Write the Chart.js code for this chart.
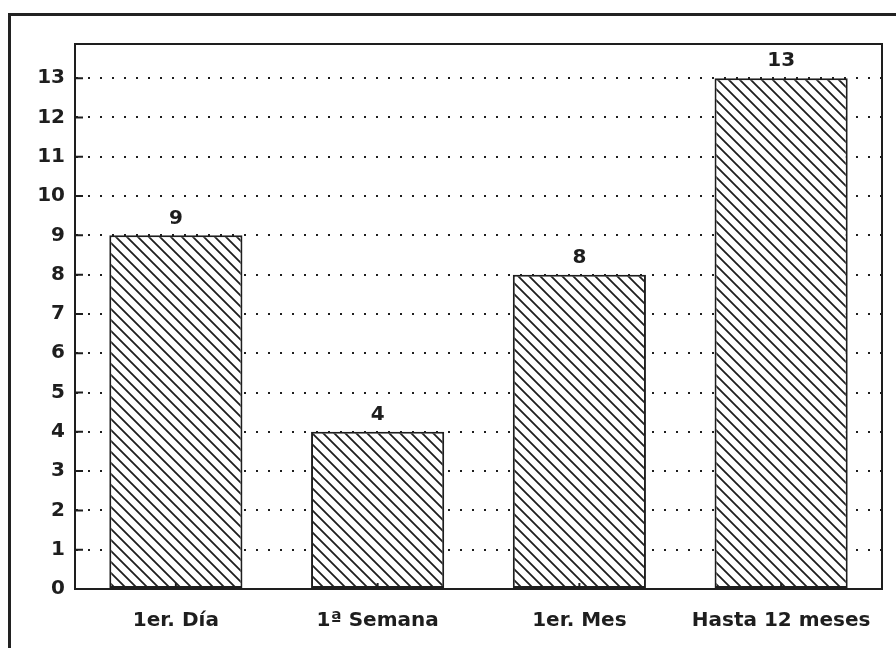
<!DOCTYPE html>
<html>
<head>
<meta charset="utf-8">
<script src="https://cdn.jsdelivr.net/npm/chart.js@4.4.0/dist/chart.umd.min.js"></script>
<style>
  html, body { margin: 0; padding: 0; background: #fff; overflow: hidden; }
  #frame { position: absolute; left: 8px; top: 13px; width: 1000px; height: 1000px; border: 3px solid #222; }
  #wrap { position: absolute; left: 0; top: 0; width: 896px; height: 648px; }
</style>
</head>
<body>
<div id="frame"></div>
<div id="wrap"><canvas id="myChart"></canvas></div>
<script>
var categories = ["1er. Día", "1ª Semana", "1er. Mes", "Hasta 12 meses"]
var counts = [9, 4, 8, 13]
var yTickValues = [0, 1, 2, 3, 4, 5, 6, 7, 8, 9, 10, 11, 12, 13]

var ink = "#1e1e1e"
var font = "'DejaVu Sans', sans-serif"

// diagonal hatch for the bars
function makeHatch(ctx){
    let n = 11
    let c = document.createElement("canvas");
    c.width = n; c.height = n;
    let g = c.getContext("2d");
    g.fillStyle = "#fff";
    g.fillRect(0, 0, n, n);
    g.strokeStyle = ink;
    g.lineWidth = 1.8;
    g.beginPath();
    g.moveTo(-1, -1); g.lineTo(n + 1, n + 1);
    g.moveTo(-1, n - 1); g.lineTo(1, n + 1);
    g.moveTo(n - 1, -1); g.lineTo(n + 1, 1);
    g.stroke();
    return ctx.createPattern(c, "repeat");
}

// box, inward ticks and value labels
var extras = {
    id: "extras",
    afterDatasetsDraw(chart){
        const ctx = chart.ctx;
        const a = chart.chartArea;
        const y = chart.scales.y;
        const x = chart.scales.x;
        ctx.save();
        ctx.strokeStyle = ink;
        ctx.lineWidth = 2;
        ctx.setLineDash([]);
        ctx.strokeRect(a.left, a.top, a.right - a.left, a.bottom - a.top);
        ctx.beginPath();
        yTickValues.forEach(v => {
            let py = y.getPixelForValue(v);
            ctx.moveTo(a.left, py);
            ctx.lineTo(a.left + 8, py);
        });
        categories.forEach((c, i) => {
            let px = x.getPixelForValue(i);
            ctx.moveTo(px, a.bottom);
            ctx.lineTo(px, a.bottom - 6);
        });
        ctx.stroke();

        ctx.fillStyle = ink;
        ctx.font = "bold 20px " + font;
        ctx.textAlign = "center";
        ctx.textBaseline = "bottom";
        chart.getDatasetMeta(0).data.forEach((bar, i) => {
            ctx.fillText(String(counts[i]), bar.x, bar.y - 7);
        });
        ctx.restore();
    }
}

const ctx = document.getElementById("myChart");
var chart = new Chart(ctx, {
    type: "bar",
    data: {
        labels: categories,
        datasets: [{
            data: counts,
            backgroundColor: makeHatch(ctx.getContext("2d")),
            borderColor: ink,
            borderWidth: 2,
            borderSkipped: false,
            barPercentage: 0.66,
            categoryPercentage: 1
        }]
    },
    options: {
        responsive: true,
        maintainAspectRatio: false,
        animation: false,
        layout: { padding: { left: 0, top: 44, right: 14, bottom: 0 } },
        plugins: { legend: { display: false }, tooltip: { enabled: false } },
        scales: {
            x: {
                grid: { display: false },
                border: { display: true, color: ink, width: 2 },
                ticks: { color: ink, font: { family: font, size: 20, weight: "bold" }, padding: 12, maxRotation: 0 },
                afterFit(scale){ scale.height = 59; }
            },
            y: {
                min: 0,
                max: 13.87,
                grid: { color: ink, lineWidth: 2, drawTicks: false },
                // dotted horizontal grid
                border: { display: true, color: ink, width: 2, dash: [2, 10] },
                ticks: { color: ink, font: { family: font, size: 20, weight: "bold" }, padding: 10 },
                afterBuildTicks(scale){ scale.ticks = yTickValues.map(v => ({ value: v })); },
                afterFit(scale){ scale.width = 75; }
            }
        }
    },
    plugins: [extras]
});
</script>
</body>
</html>
